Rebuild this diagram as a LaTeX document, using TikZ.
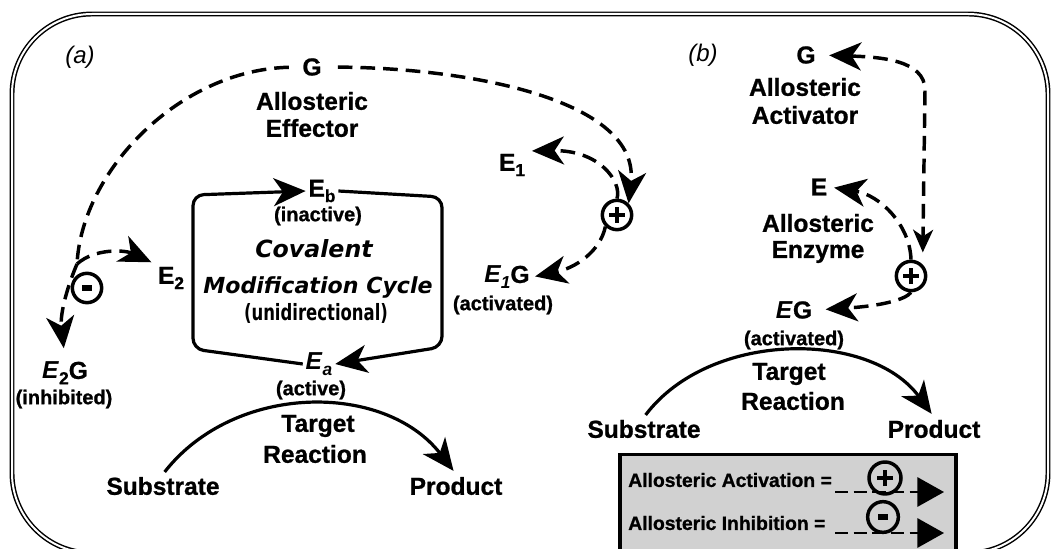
\documentclass[tikz,border=0pt]{standalone}
\usepackage{fontspec}
\setmainfont{Liberation Sans}[BoldFeatures={FakeBold=0.9}]
\newfontfamily\comicf{DejaVu Sans}
\usetikzlibrary{arrows.meta}
\newcommand\mainsz{\fontsize{18.4}{21}\selectfont\bfseries}
\newcommand\smsz{\fontsize{15}{17}\selectfont\bfseries}
\newcommand\legsz{\fontsize{14.5}{16}\selectfont\bfseries}
\newcommand\lsub[1]{\raisebox{-4pt}{\fontsize{13}{13}\selectfont #1}}
\newcommand\plusg{\makebox[12pt][l]{\rlap{\rule[4.2pt]{12pt}{3.6pt}}\hspace*{4.2pt}\rule{3.6pt}{12pt}}}
\newcommand\minusg{\rule{7.5pt}{5pt}}
\tikzset{
  lbl/.style={font=\mainsz, inner sep=2pt},
  sml/.style={font=\smsz, inner sep=1pt},
  dsh/.style={line width=2.6pt, dash pattern=on 11pt off 6pt},
  sol/.style={line width=2.4pt},
  hd/.style={-{Stealth[length=24pt,width=21pt,inset=7pt]}},
  sgn/.style={circle, draw, line width=2.6pt, minimum size=22pt, inner sep=0pt},
  panel/.style={font=\fontsize{18}{20}\selectfont\itshape},
  legdash/.style={line width=1.6pt, dash pattern=on 10pt off 4pt, -{Triangle[length=20pt,width=22pt]}},
}
\begin{document}
\begin{tikzpicture}[x=0.75pt,y=-0.75pt]
\useasboundingbox (0,0) rectangle (1053,549);
% frame
\draw[double, double distance=1.5pt, line width=1.1pt, rounded corners=60pt] (12,14) rectangle (1048,553);

% ---------- panel (a)
\node[panel] (la) at (80,57) {(a)};
\node[lbl] (G) at (312,67) {G};
\node[lbl] (geff1) at (312,101) {Allosteric};
\node[lbl] (geff2) at (312,128) {Effector};
\node[lbl] (E2) at (171,278) {E\lsub{2}};
\node[sgn] (minus) at (87,288) {\minusg};
\node[lbl] (E2G) at (65,373) {\textit{E}\lsub{2}G};
\node[sml] (inh) at (64,399) {(inhibited)};
\coordinate (hub) at (77,264);

\node[lbl] (Eb) at (322,191) {E\lsub{b}};
\node[sml] (inact) at (318,216) {(inactive)};
\node (cov) at (314,249) {\resizebox{88pt}{!}{\comicf\bfseries\itshape Covalent}};
\node (mod) at (318,287) {\resizebox{172pt}{!}{\comicf\bfseries\itshape Modification Cycle}};
\node (uni) at (316,313) {\resizebox*{108pt}{15pt}{\comicf\bfseries (unidirectional)}};
\node[lbl] (Ea) at (319,364) {\textit{E}\lsub{\textit{a}}};
\node[sml] (act) at (311,390) {(active)};
\node[lbl] (tr1) at (318,426) {Target};
\node[lbl] (tr2) at (315,454) {Reaction};
\node[lbl] (sub) at (163,486) {Substrate};
\node[lbl] (prod) at (456,486) {Product};

\node[lbl] (E1) at (512,165) {E\lsub{1}};
\node[sgn] (plus) at (617,215) {\plusg};
\node[lbl] (E1G) at (507,277) {\textit{E\lsub{1}}G};
\node[sml] (act1) at (503,305) {(activated)};

% cycle
\draw[sol,hd,rounded corners=8pt] (Ea.west) -- (193,349) -- (193,195) -- (Eb.west);
\draw[sol,hd,rounded corners=8pt] (Eb.east) -- (442,197) -- (442,347) -- (Ea.east);
% target reaction (a)
\draw[sol,hd,shorten <=2pt,shorten >=3pt] (sub.north) .. controls (235,382) and (385,382) .. (prod.north);
% dashed (a)
\draw[dsh,shorten <=8pt] (G.west) .. controls (180,70) and (82,170) .. (hub);
\draw[dsh,hd,shorten >=8pt] (hub) .. controls (66,290) and (60,315) .. (E2G.north);
\draw[dsh,hd,shorten >=3pt] (hub) .. controls (95,248) and (125,250) .. (E2.north west);
\draw[dsh,hd,shorten <=10pt] (G.east) .. controls (470,68) and (640,100) .. (plus.north east);
\draw[dsh,hd,shorten >=3pt] (plus.north) .. controls (622,182) and (600,150) .. (E1.north east);
\draw[dsh,hd,shorten >=2pt] (plus.south west) .. controls (600,252) and (575,268) .. (E1G.east);

% ---------- panel (b)
\node[panel] (lb) at (703,55) {(b)};
\node[lbl] (Gb) at (806,55) {G};
\node[lbl] (actv1) at (805,87) {Allosteric};
\node[lbl] (actv2) at (805,115) {Activator};
\node[lbl] (Eo) at (819,187) {E};
\node[lbl] (enz1) at (818,223) {Allosteric};
\node[lbl] (enz2) at (818,252) {Enzyme};
\node[sgn] (plusb) at (911,276) {\plusg};
\node[lbl] (EG) at (794,310) {\textit{E}G};
\node[sml] (actb) at (794,340) {(activated)};
\node[lbl] (trb1) at (789,374) {Target};
\node[lbl] (trb2) at (793,401) {Reaction};
\node[lbl] (subb) at (644,429) {Substrate};
\node[lbl] (prodb) at (934,429) {Product};

\draw[dsh,{Stealth[length=24pt,width=21pt,inset=7pt]}-{Stealth[length=17pt,width=15pt,inset=5pt]},shorten <=8pt,shorten >=9pt]
  (Gb.east) .. controls (880,57) and (925,60) .. (925,90) -- (plusb.north east);
\draw[dsh,hd,shorten >=3pt] (plusb.north) .. controls (910,225) and (880,195) .. (Eo.east);
\draw[dsh,hd,shorten >=8pt] (plusb.south) .. controls (905,300) and (880,306) .. (EG.east);
\draw[sol,hd,shorten <=2pt,shorten >=3pt] (subb.north) .. controls (710,330) and (870,330) .. (prodb.north);

% legend
\node[draw, line width=2.4pt, fill=black!18, minimum width=252pt, minimum height=80pt, inner sep=0pt] (legend) at (788,508) {};
\node[font=\legsz, anchor=west, inner sep=0pt] (la1) at (628,480) {Allosteric Activation =};
\node[font=\legsz, anchor=west, inner sep=0pt] (la2) at (628,523) {Allosteric Inhibition =};
\node[sgn, minimum size=24pt, fill=black!18] (lp) at (885,478) {\plusg};
\node[sgn, minimum size=23pt, fill=black!18] (lm) at (883,517) {\minusg};
\coordinate (ls1) at (835,492);
\coordinate (le1) at (944,492);
\coordinate (ls2) at (835,533);
\coordinate (le2) at (944,533);
\draw[legdash] (ls1) -- (le1);
\draw[legdash] (ls2) -- (le2);
\end{tikzpicture}
\end{document}
